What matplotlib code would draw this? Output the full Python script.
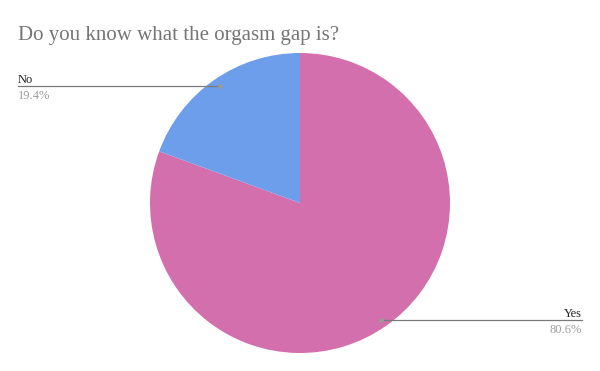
import matplotlib.pyplot as plt

labels = ["Yes", "No"]
values = [80.6, 19.4]
colors = ["#d36fac", "#6d9eeb"]

W, H = 600, 371
fig = plt.figure(figsize=(6, 3.71), dpi=100)
fig.patch.set_facecolor("white")

# pie axes placed in pixel terms: centre (300, 203), radius 150
cx, cy, r = 300, 203, 150
ax = fig.add_axes([(cx - r) / W, (H - cy - r) / H, 2 * r / W, 2 * r / H])
ax.pie(values, colors=colors, startangle=90, counterclock=False,
       wedgeprops=dict(linewidth=0))
ax.set_xlim(-1, 1)
ax.set_ylim(-1, 1)
ax.set_aspect("equal")
ax.axis("off")

serif = ["Liberation Serif", "DejaVu Serif"]

def px(x, y):
    return x / W, 1 - y / H

fig.text(*px(18, 40), "Do you know what the orgasm gap is?", fontsize=15,
         family=serif, color="#757575", ha="left", va="baseline")

# callouts: (label, value, text x, line start, line end, line y, align)
callouts = [
    (labels[1], values[1], 18, 18, 220, 86, "left"),
    (labels[0], values[0], 582, 381, 582, 320, "right"),
]
for lab, val, tx, x0, x1, ly, ha in callouts:
    fig.add_artist(plt.Line2D([x0 / W, x1 / W], [1 - ly / H, 1 - ly / H],
                              transform=fig.transFigure, color="#7a7a7a", lw=0.9))
    dot_x = x1 if ha == "left" else x0
    fig.add_artist(plt.Line2D([dot_x / W], [1 - ly / H], transform=fig.transFigure,
                              marker="o", markersize=2.5, color="#9a9a9a", lw=0))
    fig.text(*px(tx, ly - 3), lab, fontsize=9, family=serif, color="#222222",
             ha=ha, va="baseline")
    fig.text(*px(tx, ly + 13), f"{val}%", fontsize=9, family=serif,
             color="#9e9e9e", ha=ha, va="baseline")

fig.savefig("out.png", dpi=100)
